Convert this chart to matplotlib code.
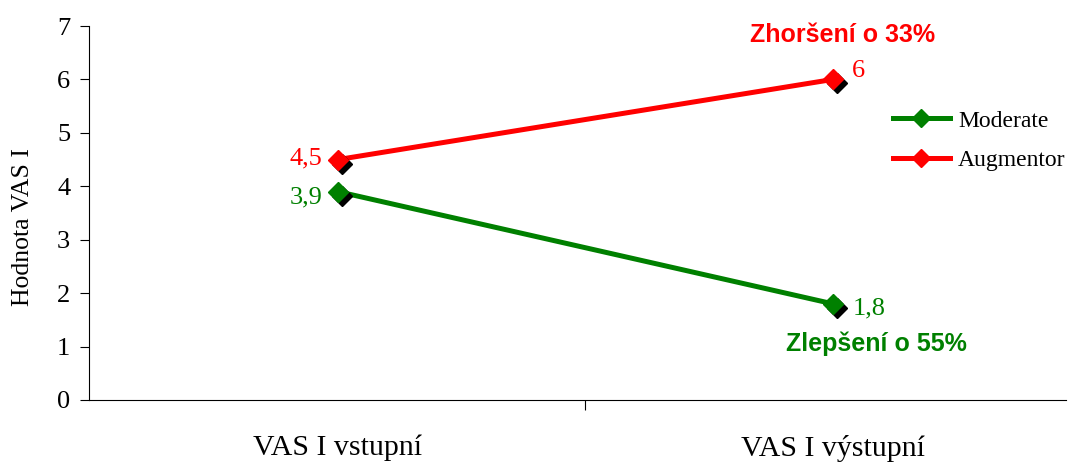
import matplotlib
matplotlib.use("Agg")
from matplotlib import pyplot as plt, transforms
from matplotlib.lines import Line2D

plt.rcParams['font.family'] = ['Liberation Serif', 'DejaVu Serif']

categories = ["VAS I vstupní", "VAS I výstupní"]
moderate = [3.9, 1.8]
augmentor = [4.5, 6.0]
moderate_labels = ["3,9", "1,8"]
augmentor_labels = ["4,5", "6"]
green = "#008000"
red = "#ff0000"

fig = plt.figure(figsize=(10.69, 4.62), dpi=100)
ax = fig.add_axes([89 / 1069, 1 - 400 / 462, (1066 - 89) / 1069, (400 - 26) / 462])

x = list(range(len(categories)))
shadow = transforms.offset_copy(ax.transData, fig=fig, x=4, y=-4, units='dots')

for vals, col in [(moderate, green), (augmentor, red)]:
    ax.plot(x, vals, color=col, lw=3.6, solid_capstyle='butt', zorder=2)
    ax.plot(x, vals, ls='none', marker='D', ms=10, color='black', transform=shadow, zorder=3)
    ax.plot(x, vals, ls='none', marker='D', ms=10, color=col, zorder=4)

# value labels
fs = 19
ax.annotate(augmentor_labels[0], (x[0], augmentor[0]), xytext=(-11, 1), textcoords='offset points',
            ha='right', va='center', color=red, fontsize=fs)
ax.annotate(moderate_labels[0], (x[0], moderate[0]), xytext=(-11, -4.5), textcoords='offset points',
            ha='right', va='center', color=green, fontsize=fs)
ax.annotate(augmentor_labels[1], (x[1], augmentor[1]), xytext=(14, 6), textcoords='offset points',
            ha='left', va='center', color=red, fontsize=fs)
ax.annotate(moderate_labels[1], (x[1], moderate[1]), xytext=(14, -3), textcoords='offset points',
            ha='left', va='center', color=green, fontsize=fs)

ax.text(1.02, 6.84, "Zhoršení o 33%", ha='center', va='center', color=red,
        fontsize=18, fontweight='bold', family=['Liberation Sans', 'DejaVu Sans'])
ax.text(1.087, 1.05, "Zlepšení o 55%", ha='center', va='center', color=green,
        fontsize=18, fontweight='bold', family=['Liberation Sans', 'DejaVu Sans'])

ax.set_xlim(-0.503, 1.471)
ax.set_ylim(0, 7)
ax.set_yticks(range(0, 8))
ax.set_xticks([0.5])
ax.set_xticklabels([])
ax.tick_params(axis='x', length=7.5, width=0.8)
ax.tick_params(axis='y', length=6.5, width=0.8, labelsize=fs, pad=7)
for i, c in enumerate(categories):
    ax.text(x[i], -0.9, c, ha='center', va='center', fontsize=21.5)

ax.spines['top'].set_visible(False)
ax.spines['right'].set_visible(False)
ax.set_ylabel("Hodnota VAS I", fontsize=18.5, va='center')
ax.yaxis.set_label_coords(-66 / 977, 173 / 374)

handles = [Line2D([], [], color=green, lw=3.6, marker='D', ms=9),
           Line2D([], [], color=red, lw=3.6, marker='D', ms=9)]
fig.legend(handles, ["Moderate", "Augmentor"], loc='upper left', bbox_to_anchor=(893 / 1069, 1 - 110 / 462),
           frameon=False, fontsize=17, handlelength=2.4, labelspacing=0.78, handletextpad=0.35,
           borderpad=0, borderaxespad=0)

fig.savefig("out.png", dpi=100)
